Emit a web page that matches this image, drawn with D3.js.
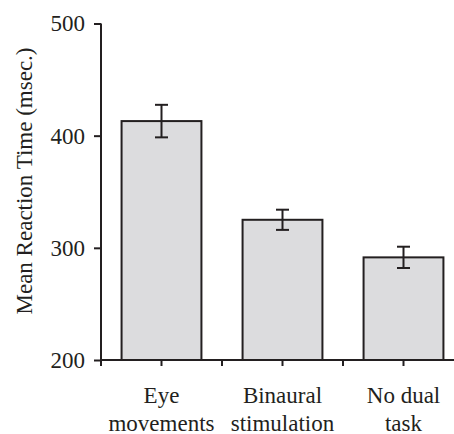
<!DOCTYPE html>
<html><head><meta charset="utf-8">
<script src="https://cdn.jsdelivr.net/npm/d3@7"></script>
<style>html,body{margin:0;padding:0;background:#fff;}svg{display:block;}</style>
</head><body>
<svg id="c" width="454" height="434"></svg>
<script>
const categories = [["Eye","movements"],["Binaural","stimulation"],["No dual","task"]];
const means = [413, 325, 291.5];
const errors = [14.5, 9, 9.5];
const yTicks = [200, 300, 400, 500];
const yLabel = "Mean Reaction Time (msec.)";

const svg = d3.select("#c");
const font = "'Liberation Serif','Times New Roman',serif";
const ink = "#231f20";
const fs = 23;
const x0 = 101, x1 = 464, yTop = 23.5, yBot = 360;

const x = d3.scaleBand().domain(d3.range(categories.length)).range([x0, x1]).padding(0);
const y = d3.scaleLinear().domain([200, 500]).range([yBot, yTop]);
const bw = x.bandwidth() * 0.66;

// bars
svg.append("g").selectAll("rect").data(means).join("rect")
  .attr("x", (d,i) => x(i) + x.bandwidth()/2 - bw/2)
  .attr("y", d => y(d))
  .attr("width", bw)
  .attr("height", d => y(200) - y(d))
  .attr("fill", "#dcdcde").attr("stroke", ink).attr("stroke-width", 2);

// error bars
const eg = svg.append("g").attr("stroke", ink).attr("stroke-width", 2);
means.forEach((m,i) => {
  const cx = x(i) + x.bandwidth()/2;
  eg.append("line").attr("x1", cx).attr("x2", cx).attr("y1", y(m+errors[i])).attr("y2", y(m-errors[i]));
  eg.append("line").attr("x1", cx-6.5).attr("x2", cx+6.5).attr("y1", y(m+errors[i])).attr("y2", y(m+errors[i]));
  eg.append("line").attr("x1", cx-6.5).attr("x2", cx+6.5).attr("y1", y(m-errors[i])).attr("y2", y(m-errors[i]));
});

// y axis
const ya = svg.append("g").attr("transform", `translate(${x0},0)`)
  .call(d3.axisLeft(y).tickValues(yTicks).tickSize(7).tickPadding(9).tickSizeOuter(0));
ya.select(".domain").attr("stroke", ink).attr("stroke-width", 2).attr("d", `M0,${yTop}V${yBot+6}`);
ya.selectAll(".tick line").attr("stroke", ink).attr("stroke-width", 2);
ya.selectAll(".tick text").attr("font-family", font).attr("font-size", fs).attr("fill", ink);

// x axis
svg.append("line").attr("x1", x0).attr("x2", 454).attr("y1", yBot).attr("y2", yBot)
  .attr("stroke", ink).attr("stroke-width", 2);
const tickPos = [];
categories.forEach((c,i) => { tickPos.push(x(i) + x.bandwidth()/2); if (i>0) tickPos.push(x(i)); });
svg.append("g").selectAll("line").data(tickPos).join("line")
  .attr("x1", d=>d).attr("x2", d=>d).attr("y1", yBot).attr("y2", yBot+6)
  .attr("stroke", ink).attr("stroke-width", 2);

// x labels
const xl = svg.append("g").attr("font-family", font).attr("font-size", fs).attr("fill", ink).attr("text-anchor", "middle");
categories.forEach((c,i) => {
  const t = xl.append("text");
  c.forEach((s,j) => t.append("tspan").attr("x", x(i) + x.bandwidth()/2).attr("y", 403 + j*27.5).text(s));
});

// y label
svg.append("text").attr("transform", `translate(31.5,181) rotate(-90)`)
  .attr("text-anchor", "middle").attr("font-family", font).attr("font-size", fs).attr("fill", ink)
  .text(yLabel);
</script>
</body></html>
